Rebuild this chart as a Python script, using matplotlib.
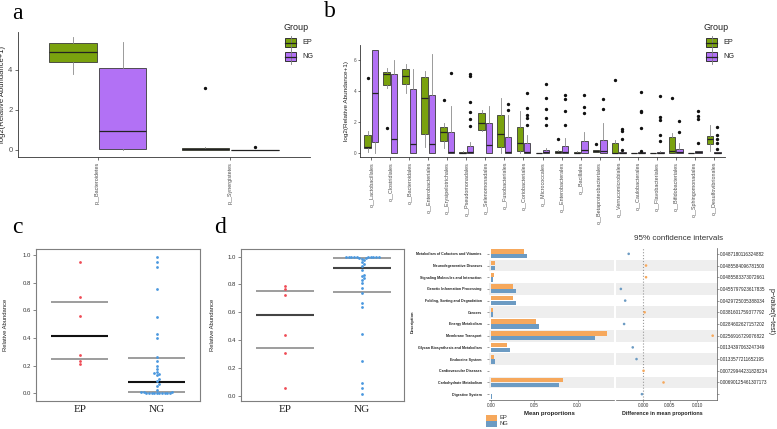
import numpy as np
import matplotlib
matplotlib.use("Agg")
import matplotlib.pyplot as plt
from matplotlib.patches import Rectangle
from matplotlib.lines import Line2D

plt.rcParams["font.family"] = "Liberation Sans"
SERIF = "Liberation Serif"

# ---- data -------------------------------------------------------------
groups = ["EP", "NG"]

# panel a: phylum boxplots, five numbers = whislo, q1, med, q3, whishi
a_taxa = ["p__Bacteroidetes", "p__Synergistetes"]
a_ep_box = [[3.8, 4.38, 4.92, 5.33, 5.67], [0.0, 0.0, 0.06, 0.12, 0.15]]
a_ng_box = [[0.0, 0.05, 0.93, 4.08, 5.38], [0.0, 0.0, 0.0, 0.02, 0.02]]
a_ep_out = [[], [3.08]]
a_ng_out = [[], [0.15]]

# panel b: order boxplots
b_orders = ["o__Lactobacillales", "o__Clostridiales", "o__Bacteroidales",
            "o__Enterobacteriales", "o__Erysipelotrichales", "o__Pseudomonadales",
            "o__Selenomonadales", "o__Fusobacteriales", "o__Coriobacteriales",
            "o__Micrococcales", "o__Enterobacterales", "o__Bacillales",
            "o__Betaproteobacteriales", "o__Verrucomicrobiales", "o__Caulobacterales",
            "o__Flavobacteriales", "o__Bifidobacteriales", "o__Sphingomonadales",
            "o__Desulfovibrionales"]
b_ep_box = [[0.09, 0.30, 0.41, 1.18, 1.42], [4.17, 4.39, 5.08, 5.25, 5.46],
            [3.85, 4.45, 4.97, 5.40, 5.72], [0.37, 1.23, 3.57, 4.88, 5.31],
            [0.30, 0.80, 1.33, 1.70, 1.91], [0.0, 0.0, 0.02, 0.06, 0.10],
            [1.44, 1.48, 1.91, 2.56, 2.80], [0.0, 0.37, 1.20, 2.43, 3.53],
            [0.0, 0.13, 0.62, 1.66, 2.73], [0.0, 0.0, 0.0, 0.02, 0.03],
            [0.0, 0.0, 0.04, 0.15, 0.20], [0.0, 0.0, 0.02, 0.04, 0.10],
            [0.09, 0.09, 0.15, 0.22, 0.22], [0.0, 0.0, 0.02, 0.62, 0.84],
            [0.0, 0.0, 0.0, 0.02, 0.03], [0.0, 0.0, 0.0, 0.02, 0.03],
            [0.0, 0.02, 0.11, 1.01, 1.27], [0.0, 0.0, 0.0, 0.02, 0.03],
            [0.15, 0.56, 0.92, 1.10, 1.81]]
b_ng_box = [[0.0, 0.73, 3.85, 6.65, 6.65], [0.0, 0.0, 0.88, 5.08, 6.0],
            [0.0, 0.0, 0.56, 4.10, 5.40], [0.0, 0.0, 0.56, 3.74, 6.39],
            [0.0, 0.0, 0.09, 1.38, 3.03], [0.0, 0.02, 0.08, 0.45, 0.73],
            [0.0, 0.0, 0.52, 1.91, 3.05], [0.0, 0.0, 0.08, 1.05, 2.43],
            [0.0, 0.0, 0.04, 0.62, 1.16], [0.0, 0.0, 0.04, 0.20, 0.30],
            [0.0, 0.0, 0.04, 0.45, 0.99], [0.0, 0.0, 0.19, 0.75, 1.33],
            [0.0, 0.0, 0.15, 0.84, 1.94], [0.0, 0.0, 0.01, 0.04, 0.06],
            [0.0, 0.0, 0.02, 0.04, 0.06], [0.0, 0.0, 0.02, 0.06, 0.10],
            [0.0, 0.0, 0.09, 0.24, 0.62], [0.0, 0.0, 0.04, 0.10, 0.15],
            [0.0, 0.0, 0.0, 0.04, 0.06]]
b_ep_out = [[4.82], [1.59], [], [], [3.42], [], [], [], [], [], [0.9], [], [0.6],
            [4.71], [], [], [3.55], [], []]
b_ng_out = [[], [], [], [], [5.18], [5.08, 4.97, 3.29, 2.62, 2.17, 1.74], [],
            [3.18, 2.80], [3.85, 2.88, 2.45, 2.24, 1.81],
            [4.47, 3.52, 2.86, 2.24, 1.78], [3.74, 3.48, 2.74, 1.78],
            [3.74, 2.99, 2.56], [3.49, 2.86], [1.57, 1.40, 0.92, 0.19],
            [3.93, 2.73, 2.65, 1.63, 0.13], [3.68, 2.32, 2.14, 1.18, 0.77],
            [2.08, 1.35], [2.68, 2.40, 2.17, 0.67], [1.67, 1.16, 0.90, 0.62, 0.28]]

# panels c and d: relative abundance per sample, plus q1 / median / q3 lines
c_ep = [0.947, 0.694, 0.559, 0.277, 0.234, 0.214]
c_ng = [0.988, 0.949, 0.911, 0.752, 0.554, 0.43, 0.40, 0.265, 0.235, 0.195,
        0.175, 0.155, 0.148, 0.14, 0.135, 0.10, 0.085, 0.065, 0.05, 0.02,
        0.012, 0.008, 0.006, 0.005, 0.005, 0.004, 0.004, 0.003, 0.003, 0.002,
        0.002, 0.001, 0.001]
c_ep_q = [0.246, 0.417, 0.663]
c_ng_q = [0.008, 0.083, 0.255]

d_ep = [0.787, 0.765, 0.722, 0.439, 0.305, 0.055]
d_ng = [0.999, 0.998, 0.998, 0.997, 0.997, 0.996, 0.996, 0.995, 0.995, 0.994,
        0.993, 0.992, 0.985, 0.975, 0.964, 0.945, 0.93, 0.904, 0.868, 0.86,
        0.845, 0.832, 0.81, 0.772, 0.739, 0.667, 0.64, 0.444, 0.249, 0.091,
        0.058, 0.014]
d_ep_q = [0.34, 0.58, 0.755]
d_ng_q = [0.748, 0.918, 0.993]

# panel e: KEGG pathways
e_desc = ["Metabolism of Cofactors and Vitamins", "Neurodegenerative Diseases",
          "Signaling Molecules and Interaction", "Genetic Information Processing",
          "Folding, Sorting and Degradation", "Cancers", "Energy Metabolism",
          "Membrane Transport", "Glycan Biosynthesis and Metabolism",
          "Endocrine System", "Cardiovascular Diseases", "Carbohydrate Metabolism",
          "Digestive System"]
e_ep = [0.0385, 0.0050, 0.0030, 0.0250, 0.0254, 0.0019, 0.0515, 0.1335, 0.0188,
        0.0035, 0.0004, 0.0827, 0.0005]
e_ng = [0.0410, 0.0046, 0.0023, 0.0288, 0.0288, 0.0019, 0.0550, 0.1204, 0.0215,
        0.0050, 0.0003, 0.0785, 0.0006]
e_diff = [-0.00265, 0.00056, 0.00056, -0.0041, -0.0033, 0.0003, -0.0035, 0.0129,
          -0.0019, -0.0012, 0.0001, 0.0038, -0.0002]
e_pval = ["0.0487180116324882", "0.0485584096781500", "0.0485583373072661",
          "0.0455797923617835", "0.0429725035388034", "0.0381601759377792",
          "0.0284602627157202", "0.0256916729076822", "0.0134397063247349",
          "0.0133577211652195", "0.00729944231828234", "0.00690125461307173", ""]

# ---- style ----------------------------------------------------------
green = "#7AA20E"
purple = "#B271F5"
red = "#EF4B55"
blue = "#4A98DF"
orange = "#F6A85C"
steel = "#6C9BC3"
txt = "#4D4D4D"

W, H = 777, 429
fig = plt.figure(figsize=(W / 100, H / 100), dpi=100)


def add_ax(l, t, r, b):
    return fig.add_axes([l / W, 1 - b / H, (r - l) / W, (b - t) / H])


def ftext(x, y, s, **kw):
    fig.text(x / W, 1 - y / H, s, **kw)


def legend_key(x, y, color):
    fig.add_artist(Line2D([x / W, x / W], [1 - (y - 7) / H, 1 - (y + 7) / H],
                          color="#808080", lw=0.6, transform=fig.transFigure))
    fig.add_artist(Rectangle(((x - 5.5) / W, 1 - (y + 4) / H), 11 / W, 8 / H,
                             facecolor=color, edgecolor="#333333", lw=0.7,
                             transform=fig.transFigure))
    fig.add_artist(Line2D([(x - 5.5) / W, (x + 5.5) / W], [1 - y / H] * 2,
                          color="#222222", lw=0.9, transform=fig.transFigure))


def draw_boxes(ax, five_list, out_list, positions, color, width):
    stats = [dict(whislo=f[0], q1=f[1], med=f[2], q3=f[3], whishi=f[4], fliers=o)
             for f, o in zip(five_list, out_list)]
    ax.bxp(stats, positions=positions, widths=width, patch_artist=True,
           showcaps=False, manage_ticks=False,
           boxprops=dict(facecolor=color, edgecolor="#3a3a3a", linewidth=0.6),
           medianprops=dict(color="#222222", linewidth=0.9),
           whiskerprops=dict(color="#8a8a8a", linewidth=0.6),
           flierprops=dict(marker="o", markersize=1.4, markerfacecolor="#111111",
                           markeredgecolor="#111111"))


def classic(ax):
    for s in ["top", "right"]:
        ax.spines[s].set_visible(False)
    for s in ["left", "bottom"]:
        ax.spines[s].set_color("#333333")
        ax.spines[s].set_linewidth(0.6)


def swarm_offsets(vals, x_scale, y_scale, d=2.6):
    # simple beeswarm: place points (in px) so they do not overlap
    vals = np.asarray(vals)
    offs = np.zeros(len(vals))
    placed = []
    for i in np.argsort(vals):
        y = vals[i] * y_scale
        k = 0
        found = None
        while found is None:
            for c in ([0.0] if k == 0 else [k * d * 0.5, -k * d * 0.5]):
                if all((c - px) ** 2 + (y - py) ** 2 >= d * d for px, py in placed):
                    found = c
                    break
            k += 1
        placed.append((found, y))
        offs[i] = found / x_scale
    return offs


# ---- panel a --------------------------------------------------------
ax_a = add_ax(18, 32, 310, 157)
pos = np.arange(1, len(a_taxa) + 1)
draw_boxes(ax_a, a_ep_box, a_ep_out, pos - 0.1875, green, 0.36)
draw_boxes(ax_a, a_ng_box, a_ng_out, pos + 0.1875, purple, 0.36)
ax_a.set_xlim(0.4, 2.6)
ax_a.set_ylim(-0.35, 5.9)
classic(ax_a)
ax_a.set_yticks([0, 2, 4])
ax_a.set_xticks(pos)
ax_a.set_xticklabels(a_taxa, rotation=90, va="top", ha="center")
ax_a.tick_params(axis="y", labelsize=5.5, length=2, width=0.5, pad=2,
                 labelcolor=txt, color="#333333")
ax_a.tick_params(axis="x", labelsize=3.9, length=2, width=0.5, pad=1.5,
                 labelcolor=txt, color="#333333")
ax_a.set_ylabel("log2(Relative Abundance+1)", fontsize=5.5, color="#222222")
ax_a.yaxis.set_label_coords((6 - 18) / 292, 0.5)

# ---- panel b --------------------------------------------------------
ax_b = add_ax(360, 45, 725, 157)
pos = np.arange(1, len(b_orders) + 1)
draw_boxes(ax_b, b_ep_box, b_ep_out, pos - 0.1875, green, 0.36)
draw_boxes(ax_b, b_ng_box, b_ng_out, pos + 0.1875, purple, 0.36)
ax_b.set_xlim(0.4, len(b_orders) + 0.6)
ax_b.set_ylim(-0.26, 6.97)
classic(ax_b)
ax_b.set_yticks([0, 2, 4, 6])
ax_b.set_xticks(pos)
ax_b.set_xticklabels(b_orders, rotation=90, va="top", ha="center")
ax_b.tick_params(axis="y", labelsize=3.4, length=1.5, width=0.5, pad=1,
                 labelcolor=txt, color="#333333")
ax_b.tick_params(axis="x", labelsize=3.9, length=2, width=0.5, pad=1.5,
                 labelcolor=txt, color="#333333")
ax_b.set_ylabel("log2(Relative Abundance+1)", fontsize=4.6, color="#222222")
ax_b.yaxis.set_label_coords((349 - 360) / 365, 0.5)

# legends for a and b
for lx in [283, 704]:
    ftext(lx, 27, "Group", fontsize=6.5, va="center", ha="left", color="#222222")
    for gy, g, col in zip([42.5, 56.5], groups, [green, purple]):
        legend_key(lx + 7.5, gy, col)
        ftext(lx + 19, gy, g, fontsize=5.2, va="center", ha="left", color="#222222")

# ---- panels c and d -------------------------------------------------
def dot_panel(box, ylim, xlim, ep, ng, ep_q, ng_q, ylab_x, half, med_color):
    l, t, r, b = box
    ax = add_ax(l, t, r, b)
    ax.set_xlim(*xlim)
    ax.set_ylim(*ylim)
    xs = (r - l) / (xlim[1] - xlim[0])
    ys = (b - t) / (ylim[1] - ylim[0])
    for xc, q in zip([1, 2], [ep_q, ng_q]):
        ax.hlines([q[0], q[2]], xc - half, xc + half, color="#8c8c8c", lw=1.2)
        ax.hlines([q[1]], xc - half, xc + half, color=med_color, lw=1.5)
    ax.scatter(1 + swarm_offsets(ep, xs, ys), ep, s=4, color=red, lw=0, zorder=3)
    ax.scatter(2 + swarm_offsets(ng, xs, ys), ng, s=4, color=blue, lw=0, zorder=3)
    for s in ax.spines.values():
        s.set_color("#7f7f7f")
        s.set_linewidth(0.8)
    ax.set_yticks([0, 0.2, 0.4, 0.6, 0.8, 1.0])
    ax.set_yticklabels(["0.0", "0.2", "0.4", "0.6", "0.8", "1.0"])
    ax.tick_params(axis="y", labelsize=4.3, length=2, width=0.5, pad=1.5,
                   color="#555555", labelcolor="#333333")
    ax.set_xticks([1, 2])
    ax.set_xticklabels(groups, family=SERIF, fontsize=8)
    ax.tick_params(axis="x", length=0, pad=3, labelcolor="#222222")
    ax.set_ylabel("Relative Abundance", fontsize=4.2, color="#222222")
    ax.yaxis.set_label_coords((ylab_x - l) / (r - l), 0.5)
    return ax


dot_panel((36, 249, 200, 401), (-0.056, 1.043), (0.43, 2.56), c_ep, c_ng,
          c_ep_q, c_ng_q, 7.5, 0.37, "#111111")
dot_panel((241, 249, 404, 401), (-0.038, 1.055), (0.426, 2.55), d_ep, d_ng,
          d_ep_q, d_ng_q, 215.5, 0.375, "#444444")

# ---- panel e --------------------------------------------------------
rows = np.arange(len(e_desc))
ax_e = add_ax(489, 248, 614, 400)
ax_ci = add_ax(616, 248, 717, 400)
for ax in [ax_e, ax_ci]:
    for i in rows[1::2]:
        ax.axhspan(i - 0.5, i + 0.5, color="#EEEEEE", lw=0, zorder=0)
    ax.set_ylim(len(e_desc) - 0.5, -0.5)
    for s in ["top", "left", "right"]:
        ax.spines[s].set_visible(False)
    ax.spines["bottom"].set_color("#555555")
    ax.spines["bottom"].set_linewidth(0.5)
    ax.tick_params(axis="x", labelsize=3.3, length=1.5, width=0.4, pad=1,
                   color="#555555", labelcolor="#333333")

ax_e.barh(rows - 0.2, e_ep, height=0.38, color=orange, zorder=2)
ax_e.barh(rows + 0.2, e_ng, height=0.38, color=steel, zorder=2)
ax_e.set_xlim(-0.0023, 0.142)
ax_e.set_xticks([0, 0.05, 0.10])
ax_e.set_xticklabels(["0.00", "0.05", "0.10"])
ax_e.set_yticks(rows)
ax_e.set_yticklabels(e_desc, fontsize=2.6, fontweight="bold", color="#222222")
ax_e.tick_params(axis="y", length=1.2, width=0.4, pad=4, color="#555555")
ftext(549, 413, "Mean proportions", fontsize=4.3, fontweight="bold",
      ha="center", va="center", color="#222222")
ftext(413, 322, "Description", fontsize=3, fontweight="bold", rotation=90,
      ha="center", va="center", color="#222222")

ci_cols = [orange if v > 0 else steel for v in e_diff]
ax_ci.axvline(0, color="#999999", ls=":", lw=0.8, zorder=1)
ax_ci.scatter(e_diff, rows, s=3.5, c=ci_cols, lw=0, zorder=3)
ax_ci.set_xlim(-0.005, 0.0137)
ax_ci.set_xticks([0, 0.005, 0.010])
ax_ci.set_xticklabels(["0.000", "0.005", "0.010"])
ax_ci.spines["right"].set_visible(True)
ax_ci.spines["right"].set_color("#555555")
ax_ci.spines["right"].set_linewidth(0.5)
ax_ci.yaxis.tick_right()
ax_ci.set_yticks(rows)
ax_ci.set_yticklabels(e_pval, fontsize=3.3, color="#222222")
ax_ci.tick_params(axis="y", length=1.2, width=0.4, pad=1, color="#555555")
ftext(662, 413, "Difference in mean proportions", fontsize=3.9, fontweight="bold",
      ha="center", va="center", color="#222222")
ftext(679, 239, "95% confidence intervals", fontsize=5.8, ha="center",
      va="center", color="#333333")
ftext(771, 312, "p\u2212value(t\u2212test)", fontsize=5, rotation=270,
      ha="center", va="center", color="#222222")

for gy, g, col in zip([417.5, 423.5], groups, [orange, steel]):
    fig.add_artist(Rectangle((486 / W, 1 - (gy + 3) / H), 11 / W, 6 / H,
                             facecolor=col, lw=0, transform=fig.transFigure))
    ftext(500, gy, g, fontsize=4.2, va="center", ha="left", color="#333333")

# ---- panel letters --------------------------------------------------
for lx, ly, s in [(17, 19, "a"), (330, 17, "b"), (17, 233, "c"), (220, 233, "d")]:
    ftext(lx, ly, s, family=SERIF, fontsize=17, ha="center", va="baseline")

fig.savefig("out.png", dpi=100)
